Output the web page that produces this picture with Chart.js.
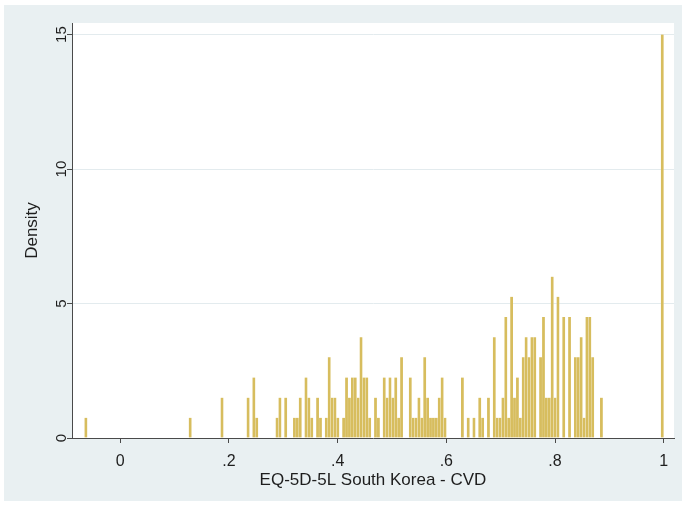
<!DOCTYPE html>
<html>
<head>
<meta charset="utf-8">
<script src="https://cdn.jsdelivr.net/npm/chart.js@4/dist/chart.umd.min.js"></script>
<style>
  html, body { margin: 0; padding: 0; background: #ffffff; }
  #wrap { width: 684px; height: 505px; }
</style>
</head>
<body>
<div id="wrap"><canvas id="c" width="684" height="505"></canvas></div>
<script>
// Histogram of EQ-5D-5L index values (South Korea value set), CVD patients.
// Equal-width bins between binLow and binHigh; only non-empty bins are listed.
const binLow = -0.066;
const binHigh = 1.0;
const binTotal = 200;

const binIndex = [
  0, 36, 47, 56, 58, 59, 66, 67, 69, 72, 73, 74, 76, 77, 78, 80, 81,
  83, 84, 85, 86, 87, 89, 90, 91, 92, 93, 94, 95, 96, 97, 98,
  100, 101, 103, 104, 105, 106, 107, 108, 109, 112,
  113, 114, 115, 116, 117, 118, 119, 120, 121, 122, 123, 124,
  130, 132, 134, 136, 137, 139, 141, 142, 143, 144, 145, 146, 147, 148, 149, 150,
  151, 152, 153, 154, 155, 157, 158, 159, 160, 161, 162, 163,
  165, 167, 169, 170, 171, 172, 173, 174, 175, 178, 199
];

const density = [
  0.75, 0.75, 1.5, 1.5, 2.25, 0.75, 0.75, 1.5, 1.5, 0.75, 0.75, 1.5, 2.25, 1.5, 0.75, 1.5, 0.75,
  0.75, 3.0, 1.5, 1.5, 0.75, 0.75, 2.25, 1.5, 2.25, 2.25, 1.5, 3.75, 2.25, 2.25, 0.75,
  1.5, 0.75, 2.25, 1.5, 2.25, 1.5, 2.25, 0.75, 3.0, 2.25,
  0.75, 0.75, 1.5, 0.75, 3.0, 1.5, 0.75, 0.75, 0.75, 1.5, 2.25, 0.75,
  2.25, 0.75, 0.75, 1.5, 0.75, 1.5, 3.75, 0.75, 0.75, 1.5, 4.5, 0.75, 5.25, 1.5, 2.25, 0.75,
  3.0, 3.75, 3.0, 3.75, 3.75, 3.0, 4.5, 1.5, 1.5, 6.0, 1.5, 5.25,
  4.5, 4.5, 3.0, 3.0, 3.75, 0.75, 4.5, 4.5, 3.0, 1.5, 15
];

const xTickValues = [0, 0.2, 0.4, 0.6, 0.8, 1];
const xTickLabels = ['0', '.2', '.4', '.6', '.8', '1'];
const yTickValues = [0, 5, 10, 15];
const yTickLabels = ['0', '5', '10', '15'];

const xTitle = 'EQ-5D-5L South Korea - CVD';
const yTitle = 'Density';

// bar points at bin midpoints
const binWidth = (binHigh - binLow) / binTotal;
const points = binIndex.map((k, i) => ({ x: binLow + (k + 0.5) * binWidth, y: density[i] }));

const FONT = '"Liberation Sans", Arial, Helvetica, sans-serif';
const BAR_COLOR = '#d7bd5e';
const REGION_COLOR = '#e9f0f2';
const GRID_COLOR = '#e3ebee';
const AXIS_COLOR = '#4a4a4a';
const TEXT_COLOR = '#1e1e1e';

const backdrop = {
  id: 'backdrop',
  beforeDraw(chart) {
    const { ctx, chartArea: a } = chart;
    ctx.save();
    ctx.fillStyle = '#ffffff';
    ctx.fillRect(0, 0, chart.width, chart.height);
    ctx.fillStyle = REGION_COLOR;
    ctx.fillRect(4, 5, chart.width - 6, chart.height - 9);
    ctx.fillStyle = '#ffffff';
    ctx.fillRect(a.left, a.top, a.right - a.left, a.bottom - a.top);
    ctx.restore();
  }
};

// vertical tick labels on the y axis
const yLabels = {
  id: 'yLabels',
  afterDraw(chart) {
    const { ctx } = chart;
    const ys = chart.scales.y;
    ctx.save();
    ctx.font = '15px ' + FONT;
    ctx.fillStyle = TEXT_COLOR;
    ctx.textAlign = 'center';
    ctx.textBaseline = 'middle';
    yTickValues.forEach((v, i) => {
      const py = ys.getPixelForValue(v);
      ctx.save();
      ctx.translate(ys.right - 10, py);
      ctx.rotate(-Math.PI / 2);
      ctx.fillText(yTickLabels[i], 0, 0);
      ctx.restore();
    });
    ctx.restore();
  }
};

new Chart(document.getElementById('c'), {
  type: 'bar',
  data: {
    datasets: [{
      data: points,
      backgroundColor: BAR_COLOR,
      borderColor: 'rgba(255,255,255,0.28)',
      borderWidth: { left: 0.4, right: 0.4, top: 0, bottom: 0 },
      borderSkipped: 'start',
      barPercentage: 1.0,
      categoryPercentage: 1.0
    }]
  },
  options: {
    responsive: false,
    animation: false,
    devicePixelRatio: 1,
    layout: { padding: { left: 0, top: 23, right: 10, bottom: 0 } },
    plugins: { legend: { display: false }, tooltip: { enabled: false } },
    scales: {
      x: {
        type: 'linear',
        offset: false,
        min: -0.0889,
        max: 1.019,
        afterBuildTicks(scale) { scale.ticks = xTickValues.map(v => ({ value: v })); },
        afterFit(scale) { scale.height = 67; },
        grid: { offset: false, drawOnChartArea: false, drawTicks: true, tickLength: 5, color: AXIS_COLOR, tickColor: AXIS_COLOR },
        border: { display: true, color: AXIS_COLOR, width: 1 },
        ticks: {
          autoSkip: false, maxRotation: 0, minRotation: 0, padding: 9,
          color: TEXT_COLOR, font: { family: FONT, size: 16 },
          callback: (v, i) => xTickLabels[i]
        },
        title: {
          display: true, text: xTitle, color: TEXT_COLOR,
          font: { family: FONT, size: 17 }, padding: { top: 0, bottom: 14 }
        }
      },
      y: {
        type: 'linear',
        min: 0,
        max: 15.43,
        afterBuildTicks(scale) { scale.ticks = yTickValues.map(v => ({ value: v })); },
        afterFit(scale) { scale.width = 72; },
        grid: { drawOnChartArea: true, drawTicks: true, tickLength: 5, color: GRID_COLOR, tickColor: AXIS_COLOR },
        border: { display: true, color: AXIS_COLOR, width: 1 },
        ticks: { display: false },
        title: {
          display: true, text: yTitle, color: TEXT_COLOR,
          font: { family: FONT, size: 17 }, padding: { top: 22, bottom: 0 }
        }
      }
    }
  },
  plugins: [backdrop, yLabels]
});
</script>
</body>
</html>
